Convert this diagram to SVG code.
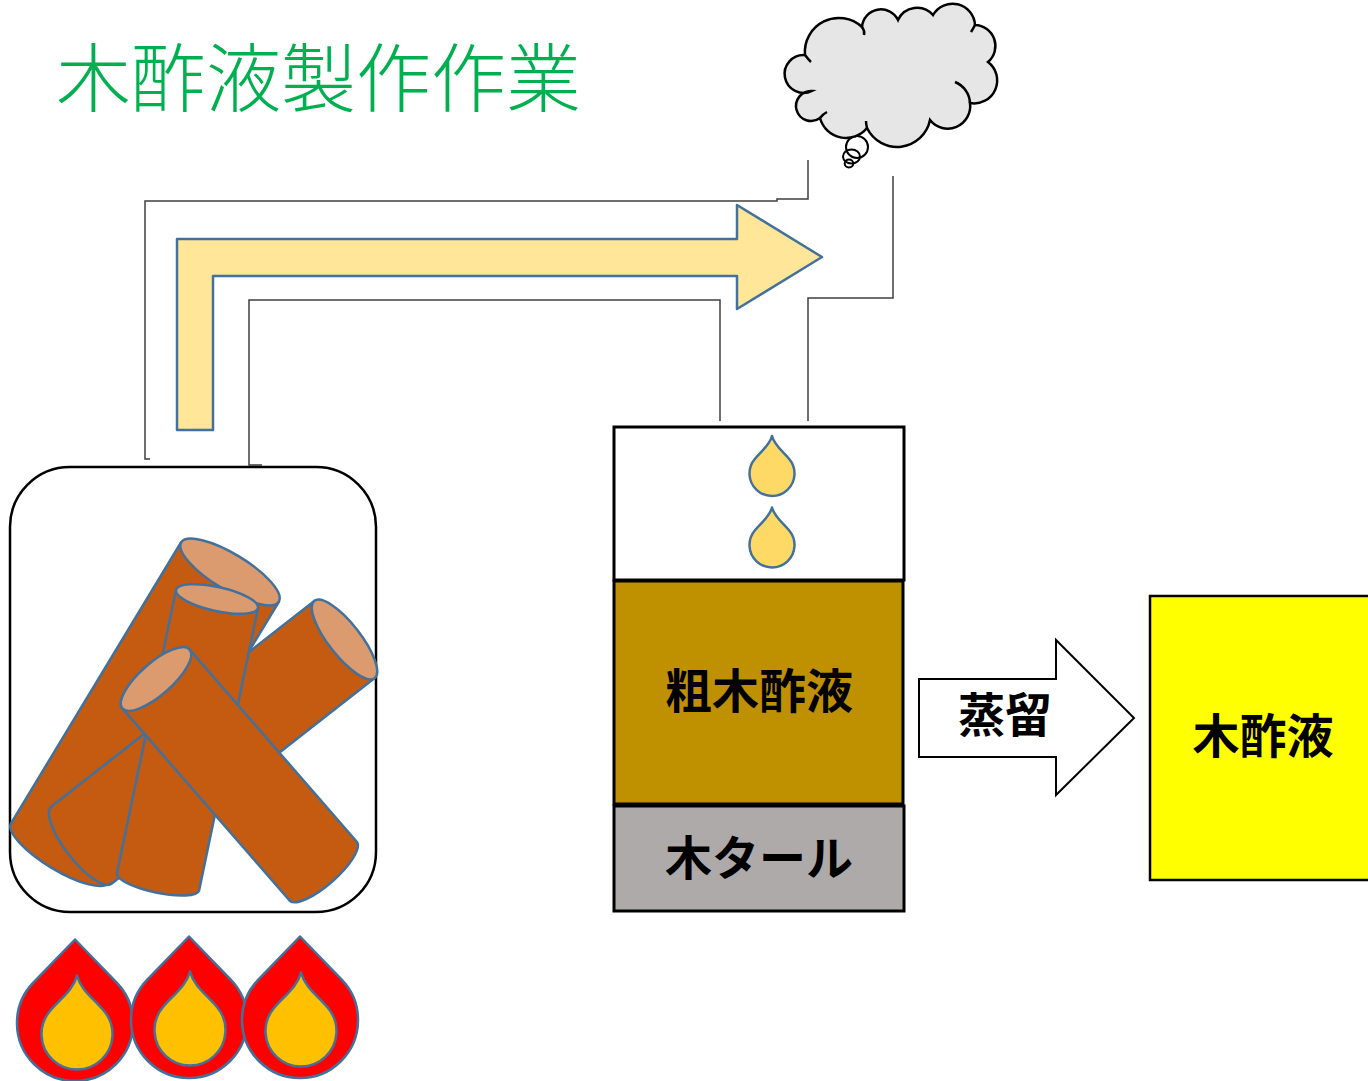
<svg xmlns="http://www.w3.org/2000/svg" xmlns:xlink="http://www.w3.org/1999/xlink" width="1368" height="1081" viewBox="0 0 1368 1081">
  <style>
    .pipe { fill: none; stroke: #3f3f3f; stroke-width: 1.5; }
    .blue { stroke: #41719C; stroke-width: 2.5; stroke-linejoin: round; }
    .log { fill: #C55A11; }
    .cap { fill: #DC9B6E; }
    .flame { fill: #FF0000; }
    .core { fill: #FFC000; }
    .dropf { fill: #FFD966; }
    .box { stroke: #000; stroke-width: 3; }
    .jp { font-family: "Noto Sans CJK JP", "Noto Sans CJK SC", sans-serif; }
    .lbl { font-weight: 700; font-size: 47px; fill: #000; text-anchor: middle; }
  </style>
  <defs>
    <!-- water drop, tip up, centred on its round part -->
    <path id="drop" d="M0,-37.5 C2.3,-28.3 10.7,-22.3 17.2,-14.5 A22.5 22.5 0 1 1 -17.2,-14.5 C-10.7,-22.3 -2.3,-28.3 0,-37.5Z"/>
    <!-- inner flame core -->
    <path id="core" d="M0,-58.5 C3.6,-44.2 16.9,-35 27.2,-22.8 A35.5 35.5 0 1 1 -27.2,-22.8 C-16.9,-35 -3.6,-44.2 0,-58.5Z"/>
    <!-- outer flame -->
    <path id="flame" d="M0,-83.5 L41.7,-40.3 A58 58 0 1 1 -41.7,-40.3 Z"/>
  </defs>

  <rect width="1368" height="1081" fill="#fff"/>

  <!-- title -->
  <g id="title">
    <text class="jp" x="56" y="106" font-size="75" font-weight="300" fill="#00B050">木酢液製作作業</text>
  </g>

  <!-- pipes and flow arrows -->
  <g id="connectors">
    <path class="pipe" d="M150,459 L145,459 L145,201 L777,201 L777,199 L808,199 L808,160"/>
    <path class="pipe" d="M262,465 L249,465 L249,300 L720,300 L720,421"/>
    <path class="pipe" d="M808,421 L808,298 L893,298 L893,176"/>
    <polygon class="blue" fill="#FFE699" points="177,430 177,239 737,239 737,205 822,257 737,309 737,276 213,276 213,430"/>
    <polygon fill="#fff" stroke="#000" stroke-width="2" points="919,679 1056,679 1056,640 1134,718 1056,795 1056,757 919,757"/>
    <text class="jp lbl" x="1005" y="732" font-size="44">蒸留</text>
  </g>

  <!-- smoke cloud -->
  <g id="cloud" stroke="#000" stroke-width="2.5">
    <ellipse cx="851.5" cy="156.5" rx="8.5" ry="7" fill="none" stroke-width="2"/>
    <ellipse cx="849" cy="163.5" rx="4.3" ry="4" fill="none" stroke-width="2"/>
    <circle cx="857" cy="147" r="11" fill="none" stroke-width="2"/>
    <path fill="#E7E6E6" d="M812,91 A19 19 0 1 1 805,55 A34 34 0 0 1 862,27 A19 19 0 0 1 898,20 A21 21 0 0 1 933,15 A22.5 22.5 0 0 1 975,25 A21 21 0 0 1 988,62 A23 23 0 0 1 970,103 A22.5 22.5 0 0 1 930,120 A33.5 33.5 0 0 1 867,128 A27 27 0 0 1 820,118 A15 15 0 1 1 812,91 Z"/>
    <path fill="none" d="M955,82 A24 24 0 0 1 970,103 M862,27 Q865,31 864,35 M805,55 Q808,59 811,62 M820,118 Q823,114 827,112 M867,128 Q866,124 866,121 M975,25 Q973,29 971,32"/>
  </g>

  <!-- kiln with logs -->
  <g id="kiln">
    <rect x="10" y="467" width="366" height="445" rx="60" fill="#fff" stroke="#000" stroke-width="2.5"/>
    <g class="blue">
      <path class="log" d="M181,542.5 L11,823.5 A57 17 31.2 0 0 109,882.5 L279,601.5 Z"/>
      <ellipse class="cap" cx="0" cy="0" rx="57" ry="18" transform="translate(230,572) rotate(31.2)"/>
      <path class="log" d="M314.3,600.9 L51.4,806.4 A49 16 52 0 0 111.8,883.6 L374.7,678.1 Z"/>
      <ellipse class="cap" cx="0" cy="0" rx="49" ry="16" transform="translate(344.5,639.5) rotate(52)"/>
      <path class="log" d="M175.9,590.4 L116.9,873.4 A42 11 11.8 0 0 199.1,890.6 L258.1,607.6 Z"/>
      <ellipse class="cap" cx="0" cy="0" rx="42" ry="12" transform="translate(217,599) rotate(12.5)"/>
      <path class="log" d="M189.7,649.6 L357,842 A44.7 14 -41.2 0 1 290,901 L122.3,708.4 Z"/>
      <ellipse class="cap" cx="0" cy="0" rx="44.7" ry="16" transform="translate(156,679) rotate(-41.2)"/>
    </g>
  </g>

  <!-- burner flames -->
  <g id="flames" class="blue">
    <use href="#flame" class="flame" transform="translate(75,1023)"/>
    <use href="#core" class="core" transform="translate(77,1034)"/>
    <use href="#flame" class="flame" transform="translate(189,1020)"/>
    <use href="#core" class="core" transform="translate(190,1030)"/>
    <use href="#flame" class="flame" transform="translate(300,1020)"/>
    <use href="#core" class="core" transform="translate(301,1031)"/>
  </g>

  <!-- collecting tank -->
  <g id="tank">
    <rect class="box" x="614" y="427" width="290" height="153" fill="#fff"/>
    <rect class="box" x="614" y="581" width="289" height="223" fill="#BF9000" stroke-width="2.5"/>
    <rect class="box" x="614" y="806" width="290" height="105" fill="#AEAAAA"/>
    <g class="blue">
      <use href="#drop" class="dropf" transform="translate(772,473.5)"/>
      <use href="#drop" class="dropf" transform="translate(772,545)"/>
    </g>
    <text class="jp lbl" x="759" y="708">粗木酢液</text>
    <text class="jp lbl" x="759" y="875">木タール</text>
  </g>

  <!-- product -->
  <g id="product">
    <rect x="1150" y="596" width="224" height="284" fill="#FFFF00" stroke="#000" stroke-width="2.5"/>
    <text class="jp lbl" x="1263" y="753">木酢液</text>
  </g>
</svg>
